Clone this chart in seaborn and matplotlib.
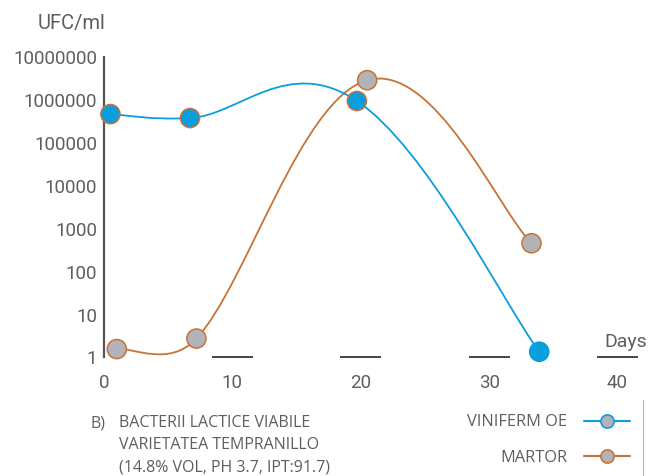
import numpy as np
import pandas as pd
import matplotlib.pyplot as plt
import seaborn as sns
from matplotlib.path import Path
from matplotlib.patches import PathPatch
from matplotlib.lines import Line2D
from matplotlib.ticker import NullLocator

# datos
series = ['VINIFERM OE', 'MARTOR']
days_viniferm = [0.5, 6.7, 19.7, 33.9]
ufc_viniferm = [470000, 380000, 950000, 1.36]
days_martor = [1.0, 7.2, 20.5, 33.3]
ufc_martor = [1.57, 2.76, 2900000, 460]

y_ticks = [1, 10, 100, 1000, 10000, 100000, 1000000, 10000000]
x_ticks = [0, 10, 20, 30, 40]
caption = ['B)', 'BACTERII LACTICE VIABILE', 'VARIETATEA TEMPRANILLO',
           '(14.8% VOL, PH 3.7, IPT:91.7)']

blue = '#0a9ede'
orange = '#c87335'
gray = '#b2b2b9'
text_gray = '#5e5e5e'
dark = '#4a4242'

df = pd.DataFrame({
    'serie': [series[0]] * len(days_viniferm) + [series[1]] * len(days_martor),
    'day': days_viniferm + days_martor,
    'ufc': ufc_viniferm + ufc_martor,
})

sns.set_theme(style='white')
plt.rcParams['font.family'] = ['Roboto', 'DejaVu Sans']

fig = plt.figure(figsize=(6.52, 4.76), dpi=100)
ax = fig.add_axes([0.1595, 0.249, 0.827, 0.631])
ax.set_yscale('log')
ax.set_xlim(0, 42)
ax.set_ylim(1, 1e7)


def smooth_path(x, y, f=0.2):
    # curva suavizada tipo Excel (bezier en coordenadas de pantalla)
    pts = ax.transData.transform(np.column_stack([x, y]))
    n = len(pts)
    ext = np.vstack([pts[0], pts, pts[-1]])
    tang = [f * (ext[i + 2] - ext[i]) for i in range(n)]
    verts = [pts[0]]
    for i in range(n - 1):
        p0, p1 = pts[i], pts[i + 1]
        half = 0.5 * np.linalg.norm(p1 - p0)
        a, b = tang[i], tang[i + 1]
        if np.linalg.norm(a) > half:
            a = a * half / np.linalg.norm(a)
        if np.linalg.norm(b) > half:
            b = b * half / np.linalg.norm(b)
        verts += [p0 + a, p1 - b, p1]
    verts = ax.transData.inverted().transform(np.array(verts))
    codes = [Path.MOVETO] + [Path.CURVE4] * (3 * (n - 1))
    return Path(verts, codes)


ax.add_patch(PathPatch(smooth_path(days_martor, ufc_martor), fc='none',
                       ec=orange, lw=1.3, zorder=2))
ax.add_patch(PathPatch(smooth_path(days_viniferm, ufc_viniferm), fc='none',
                       ec=blue, lw=1.3, zorder=2))

edges = [orange, orange, orange, blue] + [orange] * len(days_martor)
sns.scatterplot(data=df, x='day', y='ufc', hue='serie',
                palette={series[0]: blue, series[1]: gray},
                s=190, edgecolor=edges, linewidth=1.1, legend=False,
                zorder=3, clip_on=False, ax=ax)

# ejes
for side in ['top', 'right', 'bottom']:
    ax.spines[side].set_visible(False)
ax.spines['left'].set_color('#5b5452')
ax.spines['left'].set_linewidth(1.6)

ax.set_yticks(y_ticks, labels=[str(v) for v in y_ticks])
ax.yaxis.set_minor_locator(NullLocator())
ax.tick_params(axis='y', direction='in', length=9, width=1.3, color=dark,
               labelsize=13.5, labelcolor=text_gray, pad=5)
ax.yaxis.get_major_ticks()[0].tick1line.set_visible(False)

ax.set_xticks(x_ticks, labels=[str(v) for v in x_ticks])
ax.tick_params(axis='x', length=0, labelsize=13.5, labelcolor=text_gray, pad=12)
for t in x_ticks[1:]:
    ax.hlines(1, t - 1.6, t + 1.6, color=dark, lw=1.4, clip_on=False)

ax.set_xlabel('')
ax.set_ylabel('')
ax.grid(False)

fig.text(72 / 652, 1 - 23 / 476, 'UFC/ml', ha='center', va='center',
         fontsize=14.5, color=text_gray)
fig.text(626 / 652, 1 - 342 / 476, 'Days', ha='center', va='center',
         fontsize=14, color=text_gray)

# texto inferior
cap_font = ['Open Sans', 'DejaVu Sans']
fig.text(90 / 652, 1 - 423 / 476, caption[0], ha='left', va='center',
         fontsize=11.5, color=text_gray, family=cap_font)
for i, line in enumerate(caption[1:]):
    fig.text(119 / 652, 1 - (423 + 22 * i) / 476, line, ha='left', va='center',
             fontsize=11.5, color=text_gray, family=cap_font)

# leyenda
handles = [
    Line2D([], [], color=blue, lw=1.5, marker='o', markersize=9.5,
           markerfacecolor=gray, markeredgecolor=blue, markeredgewidth=1.2),
    Line2D([], [], color=orange, lw=1.5, marker='o', markersize=9.5,
           markerfacecolor=gray, markeredgecolor=orange, markeredgewidth=1.2),
]
fig.legend(handles, series, loc='upper right', markerfirst=False,
           frameon=False, bbox_to_anchor=(641 / 652, 1 - 403 / 476),
           prop={'family': cap_font, 'size': 11.8}, labelcolor=text_gray,
           handlelength=2.8, handletextpad=1.0, labelspacing=1.2,
           borderpad=0.2)
fig.add_artist(Line2D([643 / 652, 643 / 652], [0, 76 / 476],
                      transform=fig.transFigure, color='#b5b5b5', lw=0.8))

fig.savefig('out.png', dpi=100)
